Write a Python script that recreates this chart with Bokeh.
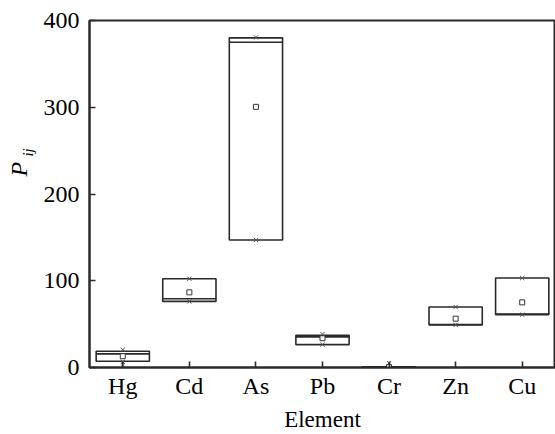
import math
from bokeh.plotting import figure
from bokeh.models import SingleIntervalTicker, Range1d
from bokeh.layouts import row
from bokeh.core.properties import value
from bokeh.embed import file_html
from bokeh.resources import INLINE

elements = ["Hg", "Cd", "As", "Pb", "Cr", "Zn", "Cu"]
box_low = [7.2, 76.2, 147.0, 26.4, 0.0, 49.1, 60.9]
box_high = [18.7, 102.3, 380.0, 37.2, 0.8, 69.8, 103.1]
median = [15.7, 79.3, 375.0, 35.3, 0.4, 49.6, 61.5]
mean = [13.0, 86.6, 300.5, 33.7, 0.4, 56.3, 75.1]
cross_max = [20.5, 102.3, 380.5, 38.5, 5.0, 69.8, 103.1]
cross_min = [6.5, 76.2, 147.0, 26.4, 0.2, 49.1, 60.9]
stem_elems = ["Hg", "Cr"]
stem_lo = [0.5, 0.8]
stem_hi = [7.2, 6.0]

FONT = "Liberation Serif"
DARK = "#2a2a2a"
H = 434
LW = 40  # width of the strip that carries the y-axis title

p = figure(x_range=elements, y_range=Range1d(0, 400), width=555 - LW, height=H,
           output_backend="svg", toolbar_location=None,
           min_border_left=88 - LW, min_border_right=0, min_border_top=20,
           min_border_bottom=66)
p.x_range.range_padding = 0
p.xgrid.visible = False
p.ygrid.visible = False
p.outline_line_color = DARK
p.outline_line_width = 2
p.background_fill_color = "white"
p.border_fill_color = "white"

# boxes
p.vbar(x=elements, top=box_high, bottom=box_low, width=0.8,
       fill_color=None, line_color=DARK, line_width=1.6)
# median lines
p.vbar(x=elements, top=median, bottom=median, width=0.8,
       fill_color=None, line_color=DARK, line_width=1.6)
# stems
p.segment(x0=stem_elems, y0=stem_lo, x1=stem_elems, y1=stem_hi,
          line_color=DARK, line_width=1.6)
# min / max crosses
p.scatter(x=elements, y=cross_max, marker="x", size=6, line_color="#555555", line_width=1)
p.scatter(x=elements, y=cross_min, marker="x", size=6, line_color="#555555", line_width=1)
# mean squares
p.scatter(x=elements, y=mean, marker="square", size=5, fill_color="white",
          line_color="#333333", line_width=1)

for ax in (p.xaxis[0], p.yaxis[0]):
    ax.axis_line_color = DARK
    ax.axis_line_width = 2
    ax.major_tick_line_color = DARK
    ax.major_tick_line_width = 1.6
    ax.major_tick_in = 6
    ax.major_tick_out = 0
    ax.minor_tick_line_color = None
    ax.major_label_text_font = FONT
    ax.major_label_text_font_size = "24px"
    ax.major_label_text_color = "black"

p.yaxis[0].ticker = SingleIntervalTicker(interval=100)
p.yaxis[0].major_label_standoff = 6

p.xaxis[0].major_label_standoff = 5
p.xaxis[0].axis_label = "Element"
p.xaxis[0].axis_label_text_font = FONT
p.xaxis[0].axis_label_text_font_size = "23px"
p.xaxis[0].axis_label_text_font_style = "normal"
p.xaxis[0].axis_label_text_color = "black"
p.xaxis[0].axis_label_standoff = 5

# strip carrying the y-axis title P_ij
lab = figure(width=LW, height=H, x_range=Range1d(0, LW), y_range=Range1d(0, H),
             output_backend="svg", toolbar_location=None,
             x_axis_location=None, y_axis_location=None,
             min_border_left=0, min_border_right=0, min_border_top=0, min_border_bottom=0)
lab.xgrid.visible = False
lab.ygrid.visible = False
lab.outline_line_color = None
lab.border_fill_color = "white"
lab.text(x=[18.5], y=[H - 186], text=["P"], angle=math.pi / 2,
         text_font=value(FONT), text_font_size="24px", text_font_style="italic",
         text_align="center", text_baseline="middle", text_color="black")
lab.text(x=[27.5], y=[H - 165], text=["ij"], angle=math.pi / 2,
         text_font=value(FONT), text_font_size="15px", text_font_style="italic",
         text_align="center", text_baseline="middle", text_color="black")

layout = row(lab, p, spacing=0)
open("out.html", "w").write(file_html(layout, INLINE))
